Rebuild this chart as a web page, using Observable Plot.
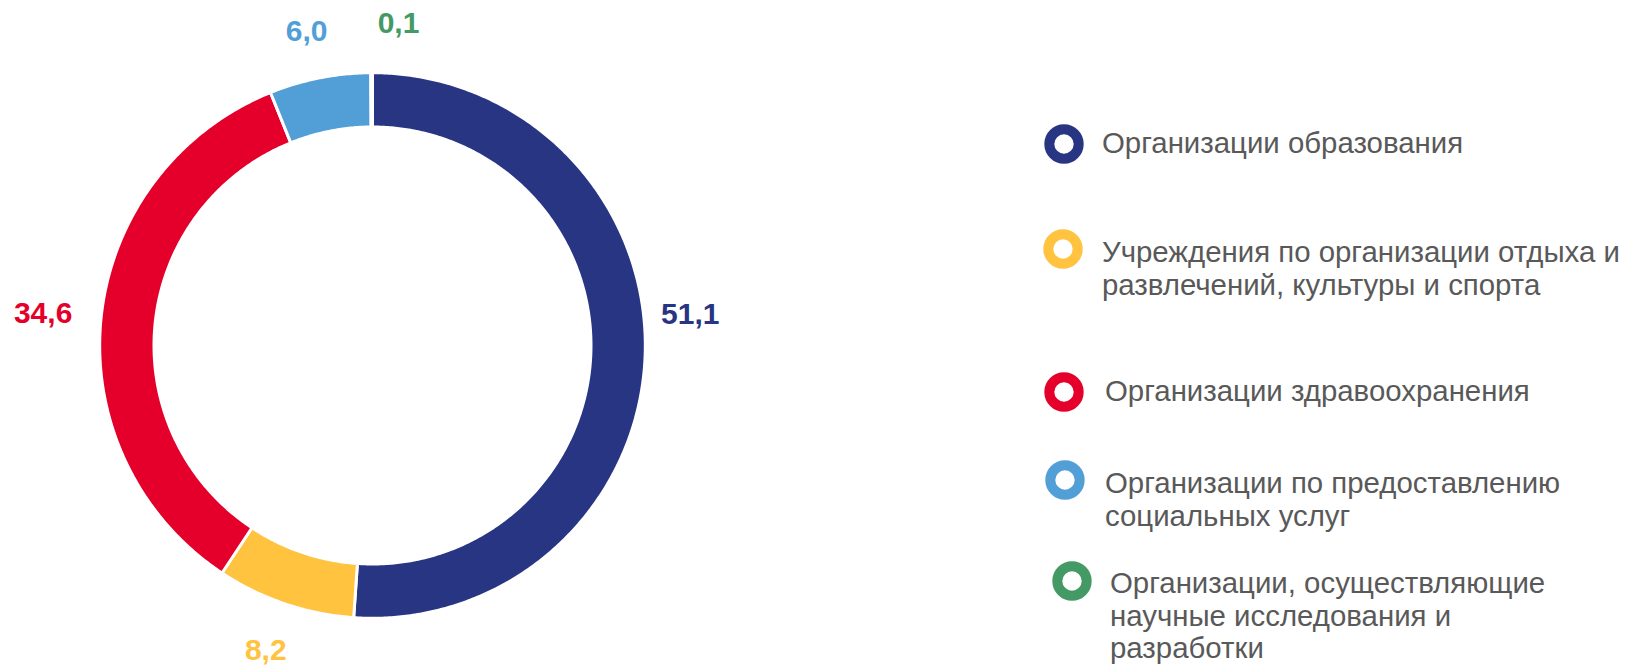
<!DOCTYPE html>
<html>
<head>
<meta charset="utf-8">
<script src="https://cdn.jsdelivr.net/npm/d3@7"></script>
<script src="https://cdn.jsdelivr.net/npm/@observablehq/plot@0.6"></script>
<style>
  html, body { margin: 0; padding: 0; background: #fff; }
  #wrap { position: relative; width: 1626px; height: 667px; overflow: hidden;
          font-family: "Liberation Sans", Arial, sans-serif; }
  #chart { position: absolute; left: 0; top: 0; }
  .marker { position: absolute; width: 40px; height: 40px; }
  .lbl { position: absolute; font-size: 29.4px; line-height: 32.5px; color: #595959; white-space: pre; }
</style>
</head>
<body>
<div id="wrap"><div id="chart"></div><div id="legend"></div></div>
<script>
// ---- data ----
const categories = [
  "Организации образования",
  "Учреждения по организации отдыха и развлечений, культуры и спорта",
  "Организации здравоохранения",
  "Организации по предоставлению социальных услуг",
  "Организации, осуществляющие научные исследования и разработки"
];
const values = [51.1, 8.2, 34.6, 6.0, 0.1];
const valueLabels = ["51,1", "8,2", "34,6", "6,0", "0,1"];
const legendLabels = [
  "Организации образования",
  "Учреждения по организации отдыха и\nразвлечений, культуры и спорта",
  "Организации здравоохранения",
  "Организации по предоставлению\nсоциальных услуг",
  "Организации, осуществляющие\nнаучные исследования и\nразработки"
];
const colors = ["#283583", "#FFC33F", "#E4002B", "#529FD8", "#449A65"];

// ---- layout ----
const W = 760, H = 667, cx = 372, cy = 345;
const R = 272.8, r0 = 218.5, labelR = 320;
const labelNudge = [[-2, -42], [-4, 2], [-11, 0], [-4, 0], [27, -2]]; // px (right, down)

const rows = categories.map((c, i) => ({cat: c, value: values[i], label: valueLabels[i]}));
const arcs = d3.pie().sort(null).value(d => d.value)(rows);

const ringPts = [];
arcs.forEach(a => {
  const span = a.endAngle - a.startAngle;
  const n = Math.max(2, Math.ceil(span / (Math.PI / 360)));
  for (let i = 0; i <= n; i++) {
    const t = a.startAngle + span * i / n;
    ringPts.push({cat: a.data.cat, x: R * Math.sin(t), y: R * Math.cos(t)});
  }
  for (let i = n; i >= 0; i--) {
    const t = a.startAngle + span * i / n;
    ringPts.push({cat: a.data.cat, x: r0 * Math.sin(t), y: r0 * Math.cos(t)});
  }
});

const labelRows = arcs.map((a, i) => {
  const t = (a.startAngle + a.endAngle) / 2;
  return {
    cat: a.data.cat,
    label: a.data.label,
    x: labelR * Math.sin(t) + labelNudge[i][0],
    y: labelR * Math.cos(t) - labelNudge[i][1]
  };
});

const chart = Plot.plot({
  width: W,
  height: H,
  margin: 0,
  x: {domain: [-cx, W - cx], axis: null},
  y: {domain: [-(H - cy), cy], axis: null},
  color: {domain: categories, range: colors},
  marks: [
    Plot.line(ringPts, {x: "x", y: "y", z: "cat", fill: "cat", stroke: "white",
                        strokeWidth: 3, curve: "linear-closed"}),
    Plot.text(labelRows, {x: "x", y: "y", text: "label", fill: "cat",
                          fontSize: 30, fontWeight: "bold",
                          fontFamily: "Liberation Sans, Arial, sans-serif"})
  ]
});
document.getElementById("chart").appendChild(chart);

// ---- legend ----
const legendPos = [
  {mx: 1064, my: 144, tx: 1102, ty: 144},
  {mx: 1063, my: 249, tx: 1102, ty: 253},
  {mx: 1064, my: 392, tx: 1105, ty: 392},
  {mx: 1065, my: 480, tx: 1105, ty: 484},
  {mx: 1072, my: 581, tx: 1110, ty: 584}
];
const legend = d3.select("#legend");
legendLabels.forEach((txt, i) => {
  const p = legendPos[i];
  const svg = legend.append("svg").attr("class", "marker")
    .style("left", (p.mx - 20) + "px").style("top", (p.my - 20) + "px")
    .attr("width", 40).attr("height", 40);
  svg.append("circle").attr("cx", 20).attr("cy", 20).attr("r", 14.7)
    .attr("fill", "white").attr("stroke", colors[i]).attr("stroke-width", 10);
  legend.append("div").attr("class", "lbl")
    .style("left", p.tx + "px").style("top", (p.ty - 17) + "px")
    .text(txt);
});
</script>
</body>
</html>
